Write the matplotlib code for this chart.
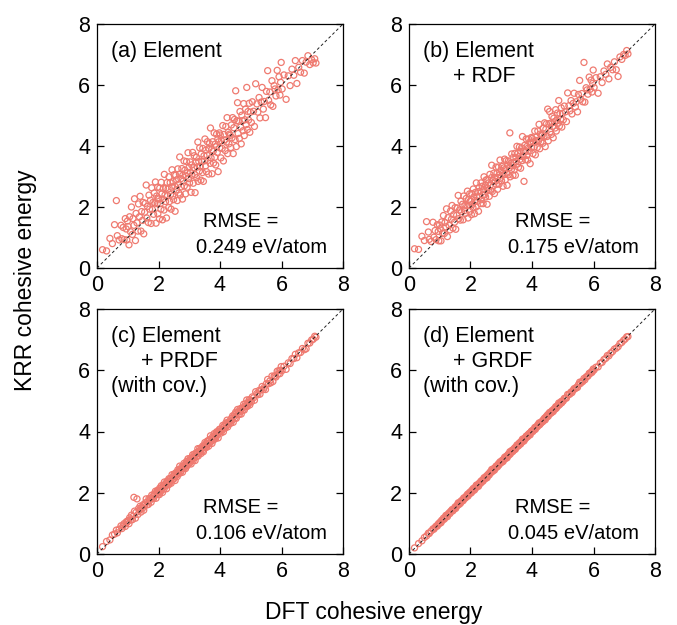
import matplotlib
matplotlib.use("Agg")
import matplotlib.pyplot as plt
import numpy as np

plt.rcParams['font.family'] = ['Liberation Sans', 'DejaVu Sans']

# DFT cohesive energy (eV/atom), same materials in every panel
dft = [
    0.18, 0.31, 0.42, 0.50, 0.57, 0.63, 0.66, 0.72, 0.78, 0.81, 0.85, 0.88, 0.92, 0.95, 0.97, 0.99,
    1.01, 1.04, 1.06, 1.09, 1.12, 1.15, 1.17, 1.20, 1.22, 1.25,
    1.27, 1.30, 1.33, 1.35, 1.38, 1.40, 1.43, 1.45, 1.48, 1.50,
    1.52, 1.55, 1.57, 1.60, 1.62, 1.64, 1.67, 1.69, 1.71, 1.74,
    1.76, 1.78, 1.80, 1.82, 1.84, 1.86, 1.88, 1.90, 1.92, 1.94,
    1.96, 1.97, 1.98, 1.99,
    2.01, 2.03, 2.04, 2.06, 2.08, 2.09, 2.11, 2.13, 2.14, 2.16,
    2.18, 2.19, 2.21, 2.23, 2.24, 2.26, 2.28, 2.29, 2.31, 2.33,
    2.34, 2.36, 2.38, 2.39, 2.41, 2.43, 2.44, 2.46, 2.48, 2.49,
    2.51, 2.53, 2.54, 2.56, 2.58, 2.59, 2.61, 2.63, 2.64, 2.66,
    2.68, 2.69, 2.71, 2.73, 2.74, 2.76, 2.78, 2.79, 2.81, 2.83,
    2.84, 2.86, 2.88, 2.89, 2.91, 2.93, 2.94, 2.96, 2.98, 2.99,
    3.01, 3.03, 3.04, 3.06, 3.08, 3.09, 3.11, 3.13, 3.14, 3.16,
    3.18, 3.19, 3.21, 3.23, 3.24, 3.26, 3.28, 3.29, 3.31, 3.33,
    3.34, 3.36, 3.38, 3.39, 3.41, 3.43, 3.44, 3.46, 3.48, 3.49,
    3.51, 3.53, 3.54, 3.56, 3.58, 3.59, 3.61, 3.63, 3.64, 3.66,
    3.68, 3.69, 3.71, 3.73, 3.74, 3.76, 3.78, 3.79, 3.81, 3.83,
    3.84, 3.86, 3.88, 3.89, 3.91, 3.93, 3.94, 3.96, 3.98, 3.99,
    4.01, 4.03, 4.05, 4.07, 4.09, 4.11, 4.13, 4.15, 4.17, 4.19,
    4.21, 4.23, 4.25, 4.27, 4.29, 4.31, 4.33, 4.35, 4.37, 4.39,
    4.41, 4.43, 4.45, 4.47, 4.49, 4.51, 4.53, 4.55, 4.57, 4.59,
    4.61, 4.63, 4.65, 4.67, 4.69, 4.71, 4.73, 4.75, 4.77, 4.79,
    4.81, 4.83, 4.85, 4.87, 4.89, 4.91, 4.93, 4.95, 4.97, 4.99,
    5.02, 5.05, 5.09, 5.12, 5.16, 5.20, 5.23, 5.27, 5.30, 5.34,
    5.37, 5.41, 5.44, 5.48, 5.51, 5.55, 5.58, 5.62, 5.65, 5.69,
    5.72, 5.76, 5.79, 5.82, 5.86, 5.89, 5.92, 5.95, 5.97, 5.99,
    6.02, 6.08, 6.15, 6.22, 6.28, 6.34, 6.40, 6.45, 6.50, 6.56,
    6.62, 6.68, 6.74, 6.80, 6.86, 6.92, 6.98, 7.03, 7.08, 7.12,
]

# KRR - DFT error for each feature set
err_a = [
    0.42, 0.25, 0.55, 0.30, 0.85, 1.58, 0.40, 0.20, 0.62, 0.15, 0.48, 0.05, 0.70, 0.33, -0.05, 0.55,
    0.35, -0.28, 0.62, 0.10, 0.88, -0.05, 0.45, 0.20, 1.05, -0.35,
    0.52, 0.18, -0.12, 0.75, 0.30, 0.95, -0.22, 0.40, 0.08, 0.65,
    -0.40, 0.28, 0.55, 1.12, 0.02, 0.38, -0.18, 0.70, 0.22, 0.48,
    -0.30, 0.85, 0.12, 0.33, -0.08, 0.60, 0.25, 0.92, -0.45, 0.42,
    0.15, 0.68, -0.20, 0.30,
    0.25, -0.42, 0.58, 0.05, -0.15, 0.72, 0.32, -0.55, 0.12, 0.45,
    -0.28, 0.88, 0.18, -0.05, 0.38, -0.62, 0.52, 0.08, 0.28, -0.35,
    0.65, -0.18, 0.42, 0.02, -0.48, 0.22, 0.78, -0.10, 0.35, -0.25,
    0.55, 0.15, -0.68, 0.48, -0.02, 0.30, -0.40, 0.62, 0.10, -0.20,
    0.40, 0.95, -0.32, 0.20, -0.08, 0.50, -0.52, 0.25, 0.05, 0.68,
    -0.15, 0.35, -0.45, 0.12, 0.58, -0.28, 0.18, 0.82, -0.05, 0.30,
    -0.22, 0.45, 0.10, -0.58, 0.30, -0.05, 0.68, -0.35, 0.15, 0.52,
    -0.12, -0.72, 0.25, 0.40, -0.28, 0.05, 0.85, -0.45, 0.18, -0.15,
    0.60, -0.02, -0.50, 0.35, 0.08, -0.30, 0.48, -0.62, 0.20, 0.02,
    0.72, -0.18, 0.32, -0.40, 0.12, 0.55, -0.08, -0.55, 0.28, 0.42,
    -0.25, 0.90, -0.10, 0.15, -0.65, 0.38, 0.05, -0.35, 0.62, -0.20,
    0.22, -0.48, 0.10, 0.50, -0.12, 0.30, -0.78, 0.18, 0.45, -0.05,
    0.35, -0.42, 0.12, -0.15, 0.58, -0.60, 0.25, 0.05, -0.32, 0.45,
    -0.08, 0.70, -0.50, 0.18, -0.22, 0.08, 0.02, -0.40, 0.32, -0.12,
    0.52, -0.68, 0.15, 0.40, -0.28, 1.30, -0.55, 0.28, 0.85, -0.18,
    0.20, -0.38, 0.48, -0.05, -0.62, 0.30, 0.10, -0.25, 0.62, -0.45,
    0.05, 0.38, -0.15, 1.05, -0.35, 0.22, -0.08, 0.45, -0.52, 0.12,
    -0.25, 0.40, 0.05, -0.48, 0.88, 0.18, -0.12, 0.32, -0.38, 0.10,
    0.55, -0.20, 0.02, -0.55, 0.28, 0.92, -0.08, 0.15, -0.30, 0.45,
    -0.42, 0.22, 0.08, -0.18, 0.62, -0.05, 0.35, -0.28, 0.12, 0.75,
    -0.15, 0.25, -0.62, 0.08, -0.30, 0.18, -0.08, 0.35, -0.45, 0.02,
    -0.20, 0.12, -0.35, -0.05, 0.10, -0.25, -0.15, -0.30, -0.22, -0.40,
]

err_b = [
    0.45, 0.30, 0.62, 0.40, 0.95, 0.55, 0.28, 0.15, 0.72, 0.20, 0.38, 0.05, 0.50, 0.25, -0.08, 0.42,
    0.28, -0.15, 0.45, 0.05, 0.60, -0.02, 0.32, 0.15, 0.72, -0.22,
    0.38, 0.10, -0.08, 0.52, 0.22, 0.65, -0.12, 0.30, 0.02, 0.48,
    -0.25, 0.18, 0.40, 0.78, 0.00, 0.26, -0.10, 0.50, 0.14, 0.35,
    -0.18, 0.58, 0.08, 0.24, -0.05, 0.42, 0.16, 0.62, -0.28, 0.30,
    0.10, 0.46, -0.12, 0.20,
    0.18, -0.28, 0.40, 0.02, -0.10, 0.50, 0.22, -0.35, 0.08, 0.32,
    -0.18, 0.60, 0.12, -0.04, 0.26, -0.40, 0.36, 0.05, 0.20, -0.22,
    0.45, -0.12, 0.30, 0.00, -0.30, 0.15, 0.55, -0.06, 0.24, -0.16,
    0.38, 0.10, -0.45, 0.34, -0.02, 0.20, -0.26, 0.44, 0.06, -0.12,
    0.28, 0.68, -0.20, 0.14, -0.05, 0.35, -0.34, 0.18, 0.03, 0.48,
    -0.10, 0.25, -0.30, 0.08, 0.40, -0.18, 0.12, 0.58, -0.03, 0.22,
    -0.15, 0.30, 0.06, -0.38, 0.20, -0.03, 0.46, -0.24, 0.10, 0.36,
    -0.08, -0.48, 0.16, 0.28, -0.18, 0.03, 1.15, -0.30, 0.12, -0.10,
    0.40, -0.01, -0.34, 0.24, 0.05, -0.20, 0.32, -0.42, 0.14, 0.01,
    0.48, -0.12, 0.22, -0.26, 0.08, 0.38, -0.05, -0.36, 0.18, 0.28,
    -0.16, 0.62, -0.06, 0.10, -0.90, 0.26, 0.03, -0.24, 0.42, -0.14,
    0.15, -0.32, 0.06, 0.34, -0.08, 0.20, -0.52, 0.12, 0.30, -0.03,
    0.24, -0.28, 0.08, -0.10, 0.40, -0.40, 0.16, 0.03, -0.22, 0.30,
    -0.05, 0.48, -0.34, 0.12, -0.15, 0.05, 0.01, -0.26, 0.22, -0.08,
    0.35, -0.45, 0.10, 0.26, -0.18, 0.70, -0.36, 0.18, 0.56, -0.12,
    0.14, -0.25, 0.32, -0.03, -0.42, 0.20, 0.06, -0.16, 0.42, -0.30,
    0.03, 0.25, -0.10, 0.62, -0.24, 0.15, -0.05, 0.30, -0.35, 0.08,
    -0.16, 0.26, 0.03, -0.32, 0.58, 0.12, -0.08, 0.22, -0.25, 0.06,
    0.36, -0.13, 0.01, -0.36, 0.18, 0.60, -0.05, 0.10, -0.20, 1.05,
    -0.28, 0.15, 0.05, -0.12, 0.40, -0.03, 0.24, -0.18, 0.08, 0.50,
    -0.10, 0.16, -0.42, 0.05, -0.20, 0.12, -0.05, 0.24, -0.30, 0.02,
    -0.12, 0.08, -0.24, -0.52, 0.06, -0.08, 0.02, -0.06, 0.05, -0.10,
]

err_c = [
    0.06, 0.10, 0.04, 0.12, 0.08, 0.15, 0.03, 0.09, 0.14, 0.02, 0.07, 0.11, -0.02, 0.10, 0.05, 0.08,
    0.08, -0.05, 0.12, 0.02, 0.15, -0.03, 0.06, 0.65, 0.18, -0.08,
    0.09, 0.50, -0.04, 0.13, 0.05, 0.16, -0.06, 0.07, 0.01, 0.11,
    -0.09, 0.04, 0.10, 0.20, -0.02, 0.06, -0.05, 0.12, 0.03, 0.08,
    -0.07, 0.14, 0.02, 0.05, -0.03, 0.10, 0.04, 0.15, -0.10, 0.07,
    0.02, 0.11, -0.04, 0.05,
    0.05, -0.09, 0.11, 0.01, -0.03, 0.14, 0.06, -0.12, 0.02, 0.09,
    -0.06, 0.16, 0.03, -0.01, 0.07, -0.13, 0.10, 0.01, 0.05, -0.07,
    0.12, -0.04, 0.08, 0.00, -0.10, 0.04, 0.15, -0.02, 0.06, -0.05,
    0.10, 0.03, -0.14, 0.09, -0.01, 0.05, -0.08, 0.12, 0.02, -0.04,
    0.07, 0.18, -0.06, 0.04, -0.02, 0.09, -0.11, 0.05, 0.01, 0.13,
    -0.03, 0.06, -0.09, 0.02, 0.11, -0.05, 0.03, 0.15, -0.01, 0.06,
    -0.05, 0.09, 0.02, -0.12, 0.06, -0.01, 0.13, -0.07, 0.03, 0.10,
    -0.03, -0.14, 0.05, 0.08, -0.06, 0.01, 0.16, -0.09, 0.04, -0.03,
    0.11, 0.00, -0.10, 0.07, 0.02, -0.06, 0.09, -0.12, 0.04, 0.00,
    0.13, -0.04, 0.06, -0.08, 0.03, 0.10, -0.02, -0.11, 0.05, 0.08,
    -0.05, 0.17, -0.02, 0.03, -0.13, 0.07, 0.01, -0.07, 0.12, -0.04,
    0.05, -0.09, 0.02, 0.10, -0.03, 0.06, -0.15, 0.04, 0.09, -0.01,
    0.07, -0.08, 0.02, -0.03, 0.11, -0.12, 0.05, 0.01, -0.06, 0.09,
    -0.02, 0.14, -0.10, 0.04, -0.05, 0.02, 0.00, -0.08, 0.06, -0.03,
    0.10, -0.13, 0.03, 0.08, -0.05, 0.12, -0.10, 0.05, 0.15, -0.04,
    0.04, -0.07, 0.09, -0.01, -0.12, 0.06, 0.02, -0.05, 0.12, -0.09,
    0.01, 0.07, -0.03, 0.16, -0.07, 0.04, -0.02, 0.09, -0.10, 0.03,
    -0.05, 0.08, 0.01, -0.10, 0.14, 0.04, -0.03, 0.07, -0.08, 0.02,
    0.10, -0.04, 0.00, -0.11, 0.05, 0.15, -0.02, 0.03, -0.06, 0.12,
    -0.09, 0.05, 0.02, -0.04, 0.11, -0.01, 0.07, -0.06, 0.03, 0.13,
    -0.03, 0.05, -0.12, 0.02, -0.06, 0.04, -0.02, 0.07, -0.09, 0.01,
    -0.04, 0.03, -0.07, -0.10, 0.02, -0.03, 0.01, -0.02, 0.03, -0.04,
]

err_d = [
    0.02, 0.03, 0.01, 0.04, 0.02, 0.05, 0.01, 0.03, 0.04, 0.00, 0.02, 0.03, -0.01, 0.03, 0.01, 0.02,
    0.03, -0.02, 0.04, 0.01, 0.05, -0.01, 0.02, 0.06, 0.03, -0.03,
    0.03, 0.04, -0.01, 0.04, 0.02, 0.05, -0.02, 0.02, 0.00, 0.04,
    -0.03, 0.01, 0.03, 0.07, -0.01, 0.02, -0.02, 0.04, 0.01, 0.03,
    -0.02, 0.05, 0.01, 0.02, -0.01, 0.03, 0.01, 0.05, -0.03, 0.02,
    0.01, 0.04, -0.01, 0.02,
    0.02, -0.03, 0.04, 0.00, -0.01, 0.05, 0.02, -0.04, 0.01, 0.03,
    -0.02, 0.06, 0.01, 0.00, 0.02, -0.05, 0.03, 0.00, 0.02, -0.02,
    0.04, -0.01, 0.03, 0.00, -0.03, 0.01, 0.05, -0.01, 0.02, -0.02,
    0.03, 0.01, -0.05, 0.03, 0.00, 0.02, -0.03, 0.04, 0.01, -0.01,
    0.02, 0.07, -0.02, 0.01, -0.01, 0.03, -0.04, 0.02, 0.00, 0.04,
    -0.01, 0.02, -0.03, 0.01, 0.04, -0.02, 0.01, 0.05, 0.00, 0.02,
    -0.02, 0.03, 0.01, -0.04, 0.02, 0.00, 0.05, -0.02, 0.01, 0.03,
    -0.01, -0.05, 0.02, 0.03, -0.02, 0.00, 0.06, -0.03, 0.01, -0.01,
    0.04, 0.00, -0.03, 0.02, 0.01, -0.02, 0.03, -0.04, 0.01, 0.00,
    0.05, -0.01, 0.02, -0.03, 0.01, 0.04, -0.01, -0.04, 0.02, 0.03,
    -0.02, 0.06, -0.01, 0.01, -0.05, 0.02, 0.00, -0.02, 0.04, -0.01,
    0.02, -0.03, 0.01, 0.03, -0.01, 0.02, -0.05, 0.01, 0.03, 0.00,
    0.02, -0.03, 0.01, -0.01, 0.04, -0.04, 0.02, 0.00, -0.02, 0.03,
    -0.01, 0.05, -0.03, 0.01, -0.02, 0.01, 0.00, -0.03, 0.02, -0.01,
    0.03, -0.05, 0.01, 0.03, -0.02, 0.04, -0.03, 0.02, 0.05, -0.01,
    0.01, -0.02, 0.03, 0.00, -0.04, 0.02, 0.01, -0.02, 0.04, -0.03,
    0.00, 0.02, -0.01, 0.06, -0.02, 0.01, -0.01, 0.03, -0.03, 0.01,
    -0.02, 0.03, 0.00, -0.03, 0.05, 0.01, -0.01, 0.02, -0.03, 0.01,
    0.03, -0.01, 0.00, -0.04, 0.02, 0.06, -0.01, 0.01, -0.02, 0.04,
    -0.03, 0.02, 0.01, -0.01, 0.04, 0.00, 0.02, -0.02, 0.01, 0.05,
    -0.01, 0.02, -0.04, 0.01, -0.02, 0.01, -0.01, 0.03, -0.03, 0.00,
    -0.01, 0.01, -0.02, -0.03, 0.01, -0.01, 0.00, -0.01, 0.01, -0.02,
]

panel_titles = ["(a) Element", "(b) Element\n     + RDF",
                "(c) Element\n     + PRDF\n(with cov.)", "(d) Element\n     + GRDF\n(with cov.)"]
rmse = ["0.249", "0.175", "0.106", "0.045"]
errors = [err_a, err_b, err_c, err_d]
ticks = [0, 2, 4, 6, 8]

W, H = 677, 625
fig = plt.figure(figsize=(W / 100, H / 100), dpi=100)

# axes boxes in pixels: left, top, right, bottom
boxes = [(97, 24, 343, 268), (409, 24, 655, 268),
         (97, 309, 343, 554), (409, 309, 655, 554)]

x = np.array(dft)
for box, title, r, err in zip(boxes, panel_titles, rmse, errors):
    l, t, rr, b = box
    ax = fig.add_axes([l / W, 1 - b / H, (rr - l) / W, (b - t) / H])
    y = x + np.array(err)
    ax.scatter(x, y, s=19, facecolors='none', edgecolors='#ef7a70',
               linewidths=0.9, zorder=2)
    ax.plot([0, 8], [0, 8], color='#222222', lw=0.7, dashes=(3, 2.5), zorder=3)
    ax.set_xlim(0, 8)
    ax.set_ylim(0, 8)
    ax.set_xticks(ticks)
    ax.set_yticks(ticks)
    ax.tick_params(direction='in', length=5, width=0.9, labelsize=15.5,
                   right=True, pad=5)
    for sp in ax.spines.values():
        sp.set_linewidth(0.9)
    ax.text(0.45, 7.45, title, fontsize=15.5, ha='left', va='top',
            linespacing=1.25)
    ax.text(3.45, 1.52, "RMSE =", fontsize=14.5, ha='left', va='center')
    ax.text(3.22, 0.66, r + " eV/atom", fontsize=14.5, ha='left', va='center')

fig.text(26 / W, 1 - 280 / H, "KRR cohesive energy", rotation=90,
         fontsize=16.5, ha='center', va='center')
fig.text(374 / W, 1 - 612 / H, "DFT cohesive energy",
         fontsize=16.5, ha='center', va='center')

plt.savefig('out.png', dpi=100)
